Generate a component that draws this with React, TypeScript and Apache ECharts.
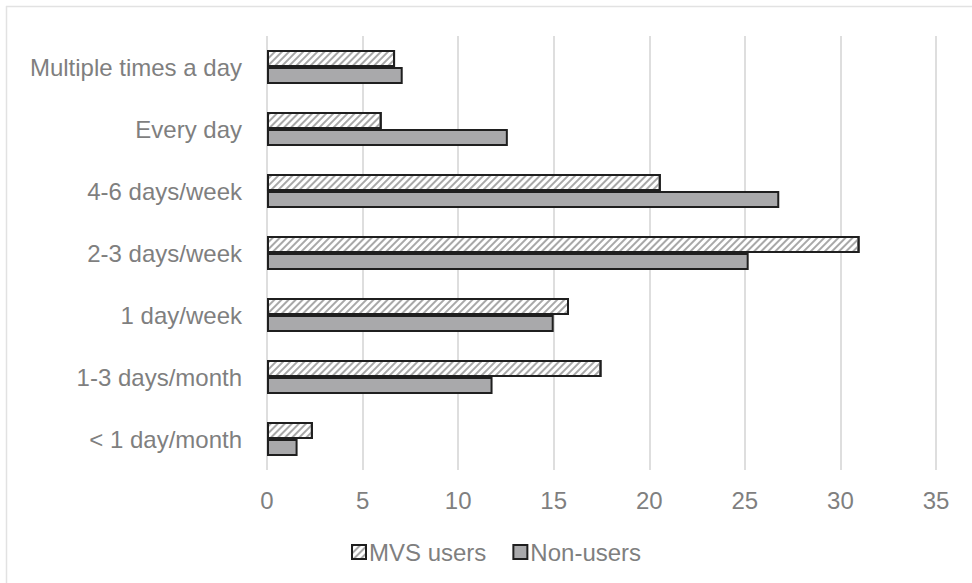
import React, { useEffect, useRef } from "react";
import * as echarts from "echarts";

// Frequency categories, listed top to bottom
const categories = [
  "Multiple times a day",
  "Every day",
  "4-6 days/week",
  "2-3 days/week",
  "1 day/week",
  "1-3 days/month",
  "< 1 day/month",
];

const mvsUsers = [6.7, 6.0, 20.6, 31.0, 15.8, 17.5, 2.4];
const nonUsers = [7.1, 12.6, 26.8, 25.2, 15.0, 11.8, 1.6];

const xTicks = { min: 0, max: 35, interval: 5 };

const TEXT = "#7f7f7f";
const EDGE = "#1f1f1f";

export default function App() {
  const ref = useRef<HTMLDivElement>(null);

  useEffect(() => {
    if (!ref.current) return;
    const chart = echarts.init(ref.current, undefined, { renderer: "svg" });
    const font = "Liberation Sans, Arial, sans-serif";

    chart.setOption({
      animation: false,
      backgroundColor: "#ffffff",
      textStyle: { fontFamily: font },
      grid: { left: 267, right: 36, top: 36, bottom: 113 },
      legend: {
        left: 346,
        top: 535,
        icon: "rect",
        itemWidth: 14,
        itemHeight: 14,
        itemGap: 26,
        textStyle: { color: TEXT, fontSize: 24, fontFamily: font, padding: [0, 0, 0, -2] },
        data: ["MVS users", "Non-users"],
      },
      xAxis: {
        type: "value",
        min: xTicks.min,
        max: xTicks.max,
        interval: xTicks.interval,
        axisLine: { show: false },
        axisTick: { show: false },
        axisLabel: { color: TEXT, fontSize: 24, margin: 18, fontFamily: font },
        splitLine: { lineStyle: { color: "#dedede", width: 2 } },
      },
      yAxis: {
        type: "category",
        data: categories,
        inverse: true,
        axisLine: { show: false },
        axisTick: { show: false },
        axisLabel: { color: TEXT, fontSize: 24, margin: 25, fontFamily: font },
        splitLine: { show: false },
      },
      series: [
        {
          name: "MVS users",
          type: "bar",
          data: mvsUsers,
          barGap: "0%",
          barCategoryGap: "45%",
          itemStyle: {
            color: "#ffffff",
            borderColor: EDGE,
            borderWidth: 2,
            decal: {
              symbol: "rect",
              color: "#a8a8a8",
              dashArrayX: [1, 0],
              dashArrayY: [1.5, 3],
              rotation: -Math.PI / 4,
            },
          },
        },
        {
          name: "Non-users",
          type: "bar",
          data: nonUsers,
          barGap: "0%",
          barCategoryGap: "45%",
          itemStyle: {
            color: "#a9a9ab",
            borderColor: EDGE,
            borderWidth: 2,
          },
        },
      ],
      graphic: [
        {
          type: "line",
          shape: { x1: 6, y1: 6.5, x2: 972, y2: 6.5 },
          style: { stroke: "#e2e2e2", lineWidth: 1.5 },
          silent: true,
        },
        {
          type: "line",
          shape: { x1: 6.5, y1: 6, x2: 6.5, y2: 583 },
          style: { stroke: "#e2e2e2", lineWidth: 1.5 },
          silent: true,
        },
      ],
    });

    return () => chart.dispose();
  }, []);

  return (
    <div
      ref={ref}
      style={{ position: "fixed", left: 0, top: 0, width: 972, height: 583 }}
    />
  );
}
